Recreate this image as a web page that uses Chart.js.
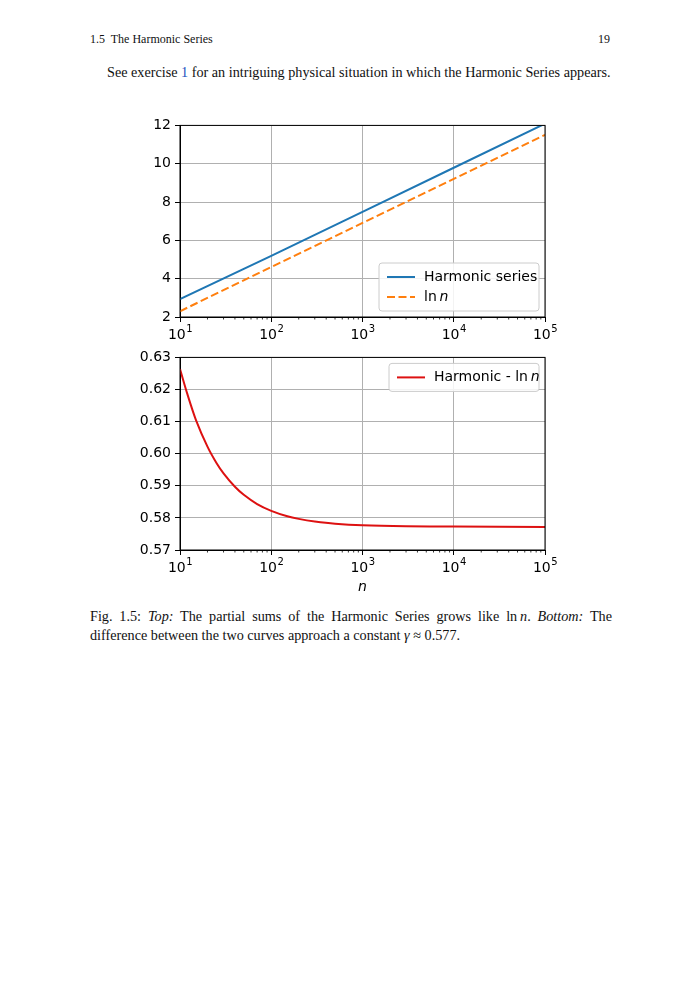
<!DOCTYPE html>
<html><head><meta charset="utf-8">
<script src="https://cdn.jsdelivr.net/npm/chart.js@4"></script>
<style>
body{margin:0;width:700px;height:1000px;background:#fff;position:relative;font-family:"Liberation Serif",serif;color:#111}
.t{position:absolute;font-size:14.2px;white-space:nowrap}
canvas{position:absolute}
a{color:#2050c0}
</style></head><body>
<div class="t" style="left:90px;top:32px;font-size:12px">1.5&nbsp; The Harmonic Series</div>
<div class="t" style="left:598px;top:32px;font-size:12px">19</div>
<div class="t" style="left:107px;top:64px">See exercise <a>1</a> for an intriguing physical situation in which the Harmonic Series appears.</div>
<div style="position:absolute;left:120px;top:113px;width:440px;height:232px"><canvas id="top"></canvas></div>
<div style="position:absolute;left:120px;top:345px;width:440px;height:255px"><canvas id="bot"></canvas></div>
<div class="t" style="left:90px;top:607px;width:522px;white-space:normal;line-height:19px;text-align:justify">Fig. 1.5: <i>Top:</i> The partial sums of the Harmonic Series grows like ln&thinsp;<i>n</i>. <i>Bottom:</i> The difference between the two curves approach a constant <i>γ</i> ≈ 0.577.</div>
<script>
const nTop = [10, 100, 1000, 10000, 100000];
const harmonic = [2.93, 5.19, 7.49, 9.79, 12.09];
const lnN = [2.30, 4.61, 6.91, 9.21, 11.51];
const nBot = [10, 12, 15, 20, 25, 30, 40, 50, 70, 100, 150, 200, 300, 500, 1000, 3000, 10000, 100000];
const diff = [0.6264, 0.6187, 0.6104, 0.6022, 0.5972, 0.5939, 0.5897, 0.5872, 0.5843, 0.5822, 0.5805, 0.5797, 0.5789, 0.5782, 0.5777, 0.5774, 0.5773, 0.5772];
const xTicks = [10, 100, 1000, 10000, 100000];
const xExp = ['1', '2', '3', '4', '5'];
const topTicks = [2, 4, 6, 8, 10, 12];
const botTicks = [0.57, 0.58, 0.59, 0.60, 0.61, 0.62, 0.63];

const font = {family: 'DejaVu Sans', size: 14};
Chart.defaults.color = '#000';

// minor ticks, frame and 10^k labels with real superscripts
const axisExtras = {
  id: 'axisExtras',
  afterDraw(chart) {
    const c = chart.ctx, x = chart.scales.x, a = chart.chartArea;
    c.save(); c.strokeStyle = '#000'; c.lineWidth = 0.8;
    for (let d = 10; d < 100000; d *= 10) {
      for (let k = 2; k < 10; k++) {
        const px = x.getPixelForValue(d * k);
        c.beginPath(); c.moveTo(px, a.bottom); c.lineTo(px, a.bottom + 2.5); c.stroke();
      }
    }
    c.lineWidth = 1;
    c.strokeRect(a.left, a.top, a.right - a.left, a.bottom - a.top);
    c.fillStyle = '#000'; c.textBaseline = 'alphabetic';
    xTicks.forEach((v, i) => {
      const px = x.getPixelForValue(v);
      c.font = '14px "DejaVu Sans"';
      const w1 = c.measureText('10').width;
      c.font = '10px "DejaVu Sans"';
      const w2 = c.measureText(xExp[i]).width;
      const x0 = px - (w1 + w2) / 2;
      c.font = '14px "DejaVu Sans"';
      c.fillText('10', x0, a.bottom + 22);
      c.font = '10px "DejaVu Sans"';
      c.fillText(xExp[i], x0 + w1 + 0.5, a.bottom + 15);
    });
    c.restore();
  }
};

function legendPlugin(items, pos) {
  return {
    id: 'box',
    afterDraw(chart) {
      const c = chart.ctx, a = chart.chartArea;
      const w = pos.w, h = items.length * 20 + 8;
      const x0 = a.right - w - 6, y0 = pos.top ? a.top + 6 : a.bottom - h - 6;
      c.save();
      c.fillStyle = 'rgba(255,255,255,0.85)'; c.strokeStyle = '#ccc'; c.lineWidth = 1;
      c.beginPath(); c.roundRect(x0, y0, w, h, 3); c.fill(); c.stroke();
      items.forEach((it, i) => {
        const y = y0 + 14 + i * 20;
        c.strokeStyle = it.color; c.lineWidth = 2; c.setLineDash(it.dash || []);
        c.beginPath(); c.moveTo(x0 + 8, y); c.lineTo(x0 + 36, y); c.stroke();
        c.setLineDash([]);
        c.fillStyle = '#000'; c.textBaseline = 'middle';
        c.font = '14px "DejaVu Sans"';
        c.fillText(it.text, x0 + 45, y);
        if (it.italic) {
          const tw = c.measureText(it.text).width;
          c.font = 'italic 14px "DejaVu Sans"';
          c.fillText(it.italic, x0 + 45 + tw, y);
        }
      });
      c.restore();
    }
  };
}

function xScale(title) {
  return {
    type: 'logarithmic', min: 10, max: 100000,
    afterBuildTicks: s => { s.ticks = xTicks.map(v => ({value: v})); },
    ticks: {font, autoSkip: false, maxRotation: 0, padding: 2, callback: () => ' '},
    grid: {color: '#b0b0b0', tickColor: '#000', tickLength: 5},
    border: {color: '#000'},
    title: title ? {display: true, text: 'n', font: {family: 'DejaVu Sans', size: 14, style: 'italic'}, padding: {top: 4}} : {display: false},
    afterFit: s => { s.height = title ? 50 : 28; }
  };
}
function yScale(ticks, dec) {
  return {
    min: ticks[0], max: ticks[ticks.length - 1],
    afterBuildTicks: s => { s.ticks = ticks.map(v => ({value: v})); },
    ticks: {font, padding: 4, callback: v => v.toFixed(dec)},
    grid: {color: '#b0b0b0', tickColor: '#000', tickLength: 5},
    border: {color: '#000'},
    afterFit: s => { s.width = 60; }
  };
}
const common = {
  responsive: true, maintainAspectRatio: false, animation: false,
  layout: {padding: {top: 10, right: 15}},
  plugins: {legend: {display: false}, tooltip: {enabled: false}}
};

new Chart(document.getElementById('top'), {
  type: 'line',
  data: {datasets: [
    {data: nTop.map((n, i) => ({x: n, y: harmonic[i]})), borderColor: '#1f77b4', borderWidth: 2, pointRadius: 0},
    {data: nTop.map((n, i) => ({x: n, y: lnN[i]})), borderColor: '#ff7f0e', borderWidth: 2, borderDash: [8, 3.5], pointRadius: 0}
  ]},
  options: {...common, scales: {x: xScale(false), y: yScale(topTicks, 0)}},
  plugins: [axisExtras, legendPlugin([
    {color: '#1f77b4', text: 'Harmonic series'},
    {color: '#ff7f0e', dash: [8, 3.5], text: 'ln\u2009', italic: 'n'}
  ], {w: 160, top: false})]
});

new Chart(document.getElementById('bot'), {
  type: 'line',
  data: {datasets: [
    {data: nBot.map((n, i) => ({x: n, y: diff[i]})), borderColor: '#dd1111', borderWidth: 2, pointRadius: 0, tension: 0.3}
  ]},
  options: {...common, scales: {x: xScale(true), y: yScale(botTicks, 2)}},
  plugins: [axisExtras, legendPlugin([
    {color: '#dd1111', text: 'Harmonic - ln\u2009', italic: 'n'}
  ], {w: 150, top: true})]
});
</script>
</body></html>
